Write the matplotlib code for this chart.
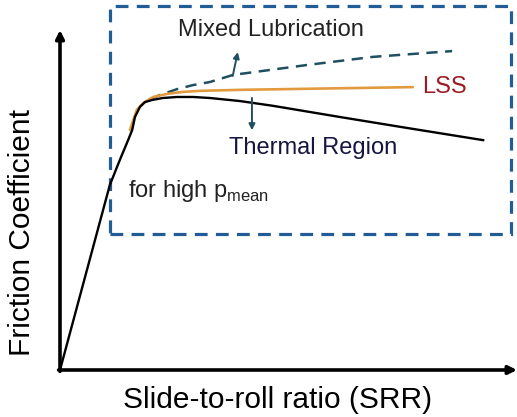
import numpy as np
import matplotlib.pyplot as plt

plt.rcParams['font.family'] = ['Liberation Sans', 'DejaVu Sans']

# schematic friction curves, SRR and friction in normalised units (0..1)
srr_black = [0.0, 0.109, 0.131, 0.149, 0.158, 0.164, 0.175, 0.186, 0.201, 0.225, 0.256, 0.291,
             0.328, 0.394, 0.466, 0.613, 0.759, 0.926]
mu_black = [0.0, 0.544, 0.618, 0.676, 0.706, 0.744, 0.774, 0.788, 0.794, 0.8, 0.803, 0.803,
            0.8, 0.791, 0.777, 0.744, 0.712, 0.676]

srr_lss = [0.153, 0.158, 0.168, 0.182, 0.204, 0.234, 0.269, 0.306, 0.394, 0.772]
mu_lss = [0.706, 0.726, 0.765, 0.785, 0.803, 0.812, 0.818, 0.821, 0.824, 0.832]

srr_mixed = [0.197, 0.219, 0.256, 0.291, 0.328, 0.379, 0.540, 0.685, 0.858]
mu_mixed = [0.797, 0.809, 0.826, 0.838, 0.847, 0.868, 0.897, 0.921, 0.938]

fig = plt.figure(figsize=(5.17, 4.17), dpi=100)
ax = fig.add_axes([60 / 517, 47 / 417, 457 / 517, 340 / 417])
ax.set_xlim(0, 1)
ax.set_ylim(0, 1)
ax.axis('off')

# axes drawn as arrows
ax.annotate('', xy=(1.0, 0), xytext=(-0.003, 0), xycoords='axes fraction',
            arrowprops=dict(arrowstyle='-|>', color='black', lw=2.6, mutation_scale=12,
                            shrinkA=0, shrinkB=0))
ax.annotate('', xy=(0, 1.0), xytext=(0, -0.004), xycoords='axes fraction',
            arrowprops=dict(arrowstyle='-|>', color='black', lw=2.6, mutation_scale=12,
                            shrinkA=0, shrinkB=0))

# dashed box for the high pressure region
box = plt.Rectangle((0.109, 0.4), 0.987 - 0.109, 1.071 - 0.4, fill=False, ls=(0, (4, 2.6)),
                    lw=2.3, ec='#225c97', clip_on=False)
ax.add_patch(box)

ax.plot(srr_mixed, mu_mixed, color='#1f4f60', lw=1.8, ls=(0, (4.5, 3)))
ax.plot(srr_lss, mu_lss, color='#e39a3e', lw=1.9, solid_capstyle='round')
ax.plot(srr_black, mu_black, color='black', lw=1.7, solid_joinstyle='round')

# direction arrows
ax.annotate('', xy=(0.389, 0.935), xytext=(0.378, 0.865),
            arrowprops=dict(arrowstyle='-|>', color='#1f4f60', lw=1.4, mutation_scale=9,
                            shrinkA=0, shrinkB=0))
ax.annotate('', xy=(0.42, 0.705), xytext=(0.42, 0.8),
            arrowprops=dict(arrowstyle='-|>', color='#1f4f60', lw=1.4, mutation_scale=9,
                            shrinkA=0, shrinkB=0))

ax.text(0.461, 1.0, 'Mixed Lubrication', fontsize=17, color='#222222', ha='center', va='center')
ax.text(0.842, 0.832, 'LSS', fontsize=17, color='#9b1c22', ha='center', va='center')
ax.text(0.554, 0.653, 'Thermal Region', fontsize=17, color='#151540', ha='center', va='center')
ax.text(0.148, 0.525, r'for high p$_{\mathregular{mean}}$', fontsize=17, color='#222222',
        ha='left', va='center')

fig.text(278 / 517, 1 - 400 / 417, 'Slide-to-roll ratio (SRR)', fontsize=21.5, ha='center', va='center')
fig.text(22 / 517, 1 - 232 / 417, 'Friction Coefficient', fontsize=21.5, rotation=90,
         ha='center', va='center')

fig.savefig('out.png', dpi=100)
